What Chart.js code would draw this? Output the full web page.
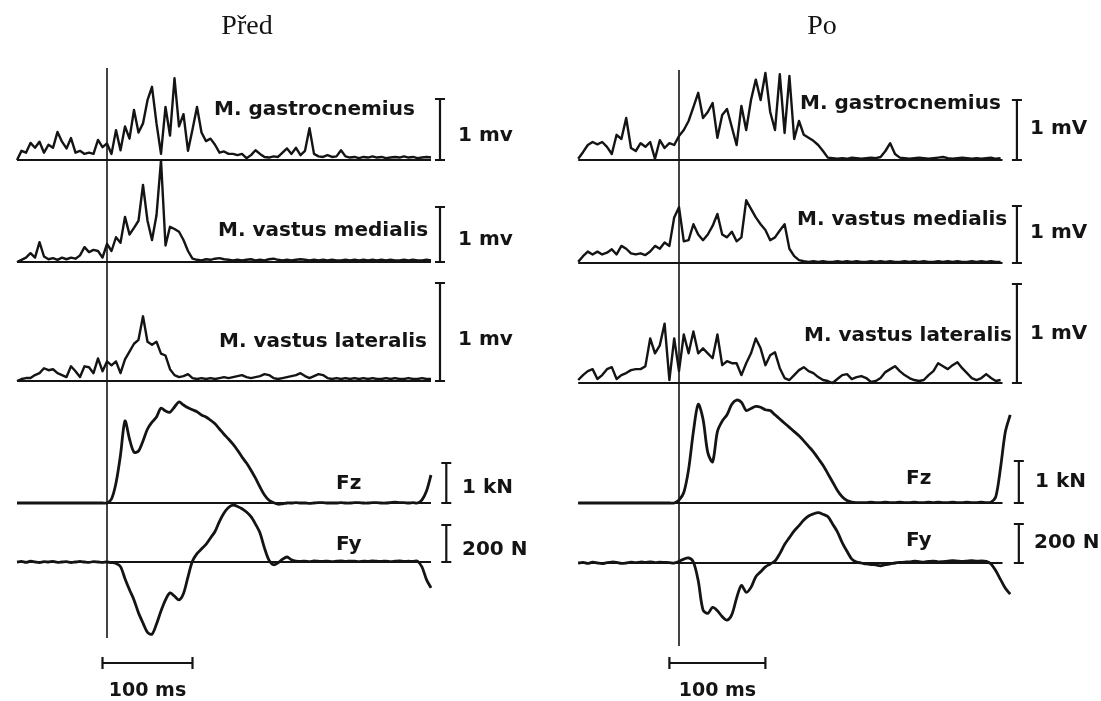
<!DOCTYPE html>
<html lang="cs">
<head>
<meta charset="utf-8">
<title>EMG a reakční síly – před a po</title>
<script src="https://cdn.jsdelivr.net/npm/chart.js@4.4.1/dist/chart.umd.min.js"></script>
<style>
  html, body { margin: 0; padding: 0; background: #fff; }
  #figure { display: block; }
</style>
</head>
<body>
<canvas id="figure" width="1101" height="701"></canvas>
<script>
// All traces are sampled every 5 ms, time 0 = foot contact
const SAMPLE_MS = 5;

// Před: rectified EMG [mV], Fz [kN], Fy [N]; first sample at -100 ms
const beforeStartMs = -100;
const beforeGastrocnemius = [
    0.00, 0.15, 0.12, 0.28, 0.20, 0.30, 0.12, 0.25, 0.20, 0.46,
    0.30, 0.19, 0.36, 0.12, 0.15, 0.10, 0.12, 0.10, 0.33, 0.21,
    0.27, 0.10, 0.49, 0.16, 0.55, 0.35, 0.82, 0.45, 0.60, 0.98,
    1.20, 0.60, 0.10, 0.87, 0.40, 1.34, 0.55, 0.75, 0.15, 0.50,
    0.87, 0.45, 0.31, 0.35, 0.25, 0.12, 0.14, 0.10, 0.10, 0.08,
    0.10, 0.03, 0.08, 0.16, 0.10, 0.05, 0.04, 0.06, 0.05, 0.12,
    0.19, 0.10, 0.20, 0.08, 0.15, 0.52, 0.10, 0.06, 0.05, 0.08,
    0.05, 0.06, 0.16, 0.06, 0.04, 0.05, 0.03, 0.05, 0.04, 0.06,
    0.04, 0.05, 0.03, 0.04, 0.05, 0.04, 0.06, 0.04, 0.05, 0.03,
    0.04, 0.05, 0.04
];
const beforeMedialis = [
    0.00, 0.04, 0.08, 0.16, 0.08, 0.36, 0.10, 0.05, 0.07, 0.04,
    0.08, 0.05, 0.08, 0.06, 0.12, 0.27, 0.18, 0.22, 0.20, 0.08,
    0.33, 0.20, 0.45, 0.35, 0.82, 0.50, 0.62, 0.75, 1.40, 0.75,
    0.40, 0.85, 1.85, 0.30, 0.64, 0.60, 0.55, 0.40, 0.20, 0.06,
    0.04, 0.03, 0.05, 0.04, 0.06, 0.07, 0.05, 0.04, 0.03, 0.04,
    0.03, 0.04, 0.05, 0.03, 0.04, 0.03, 0.05, 0.06, 0.04, 0.03,
    0.04, 0.03, 0.04, 0.05, 0.04, 0.03, 0.04, 0.03, 0.04, 0.03,
    0.04, 0.03, 0.03, 0.04, 0.03, 0.04, 0.03, 0.04, 0.03, 0.04,
    0.03, 0.04, 0.03, 0.04, 0.03, 0.03, 0.04, 0.03, 0.04, 0.03,
    0.03, 0.04, 0.03
];
const beforeLateralis = [
    0.00, 0.02, 0.03, 0.03, 0.06, 0.08, 0.13, 0.11, 0.12, 0.08,
    0.06, 0.04, 0.15, 0.10, 0.04, 0.15, 0.14, 0.08, 0.23, 0.10,
    0.20, 0.16, 0.20, 0.08, 0.22, 0.30, 0.38, 0.42, 0.66, 0.40,
    0.37, 0.40, 0.28, 0.26, 0.12, 0.06, 0.04, 0.05, 0.07, 0.03,
    0.02, 0.03, 0.02, 0.03, 0.02, 0.03, 0.04, 0.03, 0.04, 0.05,
    0.06, 0.04, 0.03, 0.04, 0.05, 0.07, 0.06, 0.03, 0.02, 0.03,
    0.04, 0.05, 0.06, 0.08, 0.05, 0.03, 0.05, 0.07, 0.06, 0.03,
    0.02, 0.03, 0.02, 0.03, 0.02, 0.03, 0.02, 0.03, 0.02, 0.03,
    0.02, 0.02, 0.03, 0.02, 0.03, 0.02, 0.02, 0.03, 0.02, 0.02,
    0.03, 0.02, 0.02
];
const beforeFz = [
    0, 0, 0, 0, 0, 0, 0, 0, 0, 0,
    0, 0, 0, 0, 0, 0, 0, 0, 0, 0,
    0, 0.10, 0.50, 1.20, 2.05, 1.60, 1.27, 1.30, 1.55, 1.85,
    2.02, 2.15, 2.37, 2.30, 2.27, 2.40, 2.53, 2.45, 2.38, 2.33,
    2.28, 2.20, 2.15, 2.07, 1.98, 1.85, 1.72, 1.60, 1.47, 1.32,
    1.15, 1.00, 0.82, 0.62, 0.40, 0.20, 0.07, 0.01, -0.03, -0.02,
    0, 0, 0.01, 0, 0, -0.01, 0, 0.01, 0.01, 0,
    0, 0, 0.01, 0, 0, 0.01, 0.01, 0, 0, 0.01,
    0.01, 0, 0, 0.01, 0.02, 0.01, 0.01, 0, 0.01, 0,
    0.08, 0.30, 0.70
];
const beforeFy = [
    0, 3, -2, 4, 0, -3, 2, 0, 3, -2,
    0, 2, -3, 0, 3, 0, -2, 2, 0, -2,
    0, -3, -8, -25, -90, -150, -205, -275, -330, -380,
    -390, -335, -265, -205, -167, -185, -205, -170, -80, 5,
    45, 70, 95, 130, 165, 220, 265, 295, 308, 300,
    288, 270, 245, 205, 157, 75, 10, -15, -5, 15,
    27, 12, 5, 3, 5, 2, 6, 4, 3, 5,
    2, 4, 6, 3, 5, 4, 2, 5, 3, 6,
    4, 3, 5, 2, 4, 6, 3, 4, 3, 5,
    -27, -95, -140
];

// Po: same channels; first sample at -105 ms
const afterStartMs = -105;
const afterGastrocnemius = [
    0.02, 0.13, 0.25, 0.30, 0.26, 0.30, 0.22, 0.10, 0.42, 0.35,
    0.70, 0.20, 0.15, 0.28, 0.22, 0.30, 0.02, 0.33, 0.20, 0.28,
    0.25, 0.40, 0.50, 0.65, 0.88, 1.12, 0.70, 0.80, 0.95, 0.37,
    0.75, 0.85, 0.55, 0.25, 0.90, 0.50, 1.00, 1.34, 1.00, 1.45,
    0.80, 0.50, 1.43, 0.45, 1.40, 0.35, 0.65, 0.42, 0.37, 0.32,
    0.25, 0.15, 0.04, 0.03, 0.02, 0.03, 0.02, 0.04, 0.03, 0.02,
    0.03, 0.04, 0.03, 0.05, 0.15, 0.28, 0.10, 0.04, 0.03, 0.02,
    0.03, 0.04, 0.03, 0.02, 0.03, 0.04, 0.05, 0.03, 0.02, 0.03,
    0.04, 0.03, 0.02, 0.03, 0.02, 0.03, 0.04, 0.02, 0.03
];
const afterMedialis = [
    0.02, 0.12, 0.20, 0.15, 0.20, 0.15, 0.18, 0.24, 0.15, 0.30,
    0.25, 0.17, 0.15, 0.17, 0.14, 0.20, 0.30, 0.25, 0.36, 0.30,
    0.80, 0.98, 0.38, 0.40, 0.68, 0.50, 0.40, 0.50, 0.65, 0.86,
    0.50, 0.45, 0.55, 0.38, 0.45, 1.10, 0.95, 0.80, 0.68, 0.58,
    0.40, 0.45, 0.57, 0.68, 0.25, 0.12, 0.05, 0.03, 0.02, 0.03,
    0.02, 0.03, 0.02, 0.02, 0.03, 0.02, 0.03, 0.02, 0.03, 0.02,
    0.02, 0.03, 0.02, 0.03, 0.02, 0.03, 0.02, 0.02, 0.03, 0.02,
    0.03, 0.02, 0.03, 0.02, 0.02, 0.03, 0.02, 0.03, 0.02, 0.03,
    0.02, 0.02, 0.03, 0.02, 0.03, 0.02, 0.03, 0.02, 0.02
];
const afterLateralis = [
    0.03, 0.08, 0.12, 0.14, 0.04, 0.08, 0.14, 0.16, 0.04, 0.08,
    0.10, 0.13, 0.14, 0.14, 0.17, 0.45, 0.30, 0.38, 0.60, 0.03,
    0.45, 0.12, 0.49, 0.30, 0.52, 0.30, 0.35, 0.30, 0.25, 0.49,
    0.18, 0.22, 0.20, 0.20, 0.08, 0.20, 0.30, 0.45, 0.35, 0.18,
    0.28, 0.31, 0.15, 0.05, 0.03, 0.08, 0.13, 0.16, 0.12, 0.10,
    0.06, 0.03, 0.02, 0.00, 0.04, 0.08, 0.09, 0.04, 0.06, 0.07,
    0.05, 0.01, 0.02, 0.05, 0.11, 0.14, 0.17, 0.12, 0.08, 0.05,
    0.03, 0.02, 0.03, 0.08, 0.12, 0.20, 0.17, 0.14, 0.18, 0.21,
    0.15, 0.10, 0.05, 0.03, 0.05, 0.09, 0.05, 0.02, 0.03
];
const afterFz = [
    0, 0, 0, 0, 0, 0, 0, 0, 0, 0,
    0, 0, 0, 0, 0, 0, 0, 0, 0, 0,
    0, 0.07, 0.25, 0.80, 1.70, 2.35, 2.00, 1.20, 0.98, 1.70,
    1.95, 2.10, 2.35, 2.45, 2.40, 2.20, 2.25, 2.30, 2.28, 2.22,
    2.20, 2.10, 2.00, 1.90, 1.80, 1.70, 1.60, 1.48, 1.35, 1.22,
    1.06, 0.90, 0.70, 0.50, 0.30, 0.15, 0.06, 0.02, 0.01, 0.01,
    0.01, 0.02, 0.01, 0.01, 0.02, 0.01, 0.01, 0.02, 0.01, 0.01,
    0.02, 0.01, 0.01, 0.02, 0.01, 0.02, 0.01, 0.01, 0.02, 0.01,
    0.01, 0.02, 0.01, 0.01, 0.02, 0.01, 0.02, 0.15, 0.85, 1.70,
    2.10
];
const afterFy = [
    0, 3, -2, 4, 0, -3, 2, 5, 3, -2,
    0, 4, 2, 5, 3, 6, 2, 4, 3, 2,
    0, 8, 20, 26, 5, -90, -240, -258, -228, -245,
    -275, -293, -265, -180, -115, -150, -125, -70, -45, -20,
    -5, 10, 48, 95, 130, 165, 192, 220, 241, 252,
    258, 250, 238, 200, 160, 105, 60, 20, 5, 0,
    -5, -8, -10, -14, -8, -5, 0, 3, 5, 6,
    9, 7, 5, 8, 10, 6, 7, 9, 12, 10,
    8, 10, 12, 9, 11, 8, -5, -40, -85, -130,
    -160
];

const W = 1101;
const H = 701;
const INK = '#141414';
const LABEL_FONT = 'bold 20px "DejaVu Sans", sans-serif';

// Two panels side by side; each row gets its own hidden y axis
const panels = [
    {
        title: 'Před', titleX: 247,
        xAxis: 'xBefore', zeroPx: 107, pxPerMs: 0.9,
        startMs: beforeStartMs, endMs: 360,
        onsetTop: 68, onsetBottom: 638,
        timeBar: [-5, 95],
        rows: [
            { id: 'yBeforeGas', values: beforeGastrocnemius, emg: true, zeroPx: 160, barPx: 61, barValue: 1, barMs: 370,
              name: 'M. gastrocnemius', nameX: 214, nameY: 110, unit: '1 mv', unitX: 458, unitY: 136 },
            { id: 'yBeforeMed', values: beforeMedialis, emg: true, zeroPx: 262, barPx: 55, barValue: 1, barMs: 370,
              name: 'M. vastus medialis', nameX: 218, nameY: 231, unit: '1 mv', unitX: 458, unitY: 240 },
            { id: 'yBeforeLat', values: beforeLateralis, emg: true, zeroPx: 381, barPx: 98, barValue: 1, barMs: 370,
              name: 'M. vastus lateralis', nameX: 219, nameY: 342, unit: '1 mv', unitX: 458, unitY: 340 },
            { id: 'yBeforeFz', values: beforeFz, emg: false, zeroPx: 503, barPx: 40, barValue: 1, barMs: 377,
              name: 'Fz', nameX: 336, nameY: 484, unit: '1 kN', unitX: 462, unitY: 488 },
            { id: 'yBeforeFy', values: beforeFy, emg: false, zeroPx: 562, barPx: 37, barValue: 200, barMs: 377,
              name: 'Fy', nameX: 336, nameY: 545, unit: '200 N', unitX: 462, unitY: 550 }
        ]
    },
    {
        title: 'Po', titleX: 822,
        xAxis: 'xAfter', zeroPx: 679, pxPerMs: 0.96,
        startMs: afterStartMs, endMs: 337,
        onsetTop: 70, onsetBottom: 646,
        timeBar: [-10, 90],
        rows: [
            { id: 'yAfterGas', values: afterGastrocnemius, emg: true, zeroPx: 160, barPx: 60, barValue: 1, barMs: 352,
              name: 'M. gastrocnemius', nameX: 800, nameY: 104, unit: '1 mV', unitX: 1030, unitY: 129 },
            { id: 'yAfterMed', values: afterMedialis, emg: true, zeroPx: 263, barPx: 57, barValue: 1, barMs: 352,
              name: 'M. vastus medialis', nameX: 797, nameY: 220, unit: '1 mV', unitX: 1030, unitY: 233 },
            { id: 'yAfterLat', values: afterLateralis, emg: true, zeroPx: 383, barPx: 99, barValue: 1, barMs: 352,
              name: 'M. vastus lateralis', nameX: 804, nameY: 336, unit: '1 mV', unitX: 1030, unitY: 334 },
            { id: 'yAfterFz', values: afterFz, emg: false, zeroPx: 503, barPx: 42, barValue: 1, barMs: 354,
              name: 'Fz', nameX: 906, nameY: 479, unit: '1 kN', unitX: 1035, unitY: 482 },
            { id: 'yAfterFy', values: afterFy, emg: false, zeroPx: 563, barPx: 39, barValue: 200, barMs: 354,
              name: 'Fy', nameX: 906, nameY: 541, unit: '200 N', unitX: 1034, unitY: 543 }
        ]
    }
];

function toPoints(values, startMs) {
    return values.map((v, i) => ({ x: startMs + i * SAMPLE_MS, y: v }));
}

// Scale limits so that 0 lands on zeroPx and one unit spans pxPerUnit
function axisLimits(zeroPx, pxPerUnit, size, inverted) {
    if (inverted) {
        return { min: -(size - zeroPx) / pxPerUnit, max: zeroPx / pxPerUnit };
    }
    return { min: -zeroPx / pxPerUnit, max: (size - zeroPx) / pxPerUnit };
}

const scales = {};
const datasets = [];
panels.forEach(p => {
    scales[p.xAxis] = { type: 'linear', display: false, ...axisLimits(p.zeroPx, p.pxPerMs, W, false) };
    p.rows.forEach(r => {
        scales[r.id] = { type: 'linear', display: false, ...axisLimits(r.zeroPx, r.barPx / r.barValue, H, true) };
        datasets.push({
            label: p.title + ' ' + r.name,
            data: toPoints(r.values, p.startMs),
            xAxisID: p.xAxis,
            yAxisID: r.id,
            borderColor: INK,
            borderWidth: r.emg ? 2.4 : 2.8,
            borderJoinStyle: 'round',
            tension: r.emg ? 0 : 0.3,
            pointRadius: 0,
            fill: false
        });
    });
});

// Zero lines, onset line, calibration bars and all lettering
const figureDecor = {
    id: 'figureDecor',
    beforeDatasetsDraw(chart) {
        const ctx = chart.ctx;
        ctx.save();
        ctx.strokeStyle = INK;
        panels.forEach(p => {
            const xs = chart.scales[p.xAxis];
            ctx.lineWidth = 2;
            p.rows.forEach(r => {
                const y0 = chart.scales[r.id].getPixelForValue(0);
                ctx.beginPath();
                ctx.moveTo(xs.getPixelForValue(p.startMs), y0);
                ctx.lineTo(xs.getPixelForValue(p.endMs), y0);
                ctx.stroke();
            });
            const xOnset = xs.getPixelForValue(0);
            ctx.lineWidth = 1.6;
            ctx.beginPath();
            ctx.moveTo(xOnset, p.onsetTop);
            ctx.lineTo(xOnset, p.onsetBottom);
            ctx.stroke();
        });
        ctx.restore();
    },
    afterDatasetsDraw(chart) {
        const ctx = chart.ctx;
        ctx.save();
        ctx.strokeStyle = INK;
        ctx.fillStyle = INK;
        ctx.lineWidth = 2.2;

        const capBar = (x1, y1, x2, y2, cap, vertical) => {
            ctx.beginPath();
            ctx.moveTo(x1, y1);
            ctx.lineTo(x2, y2);
            if (vertical) {
                ctx.moveTo(x1 - cap, y1); ctx.lineTo(x1 + cap, y1);
                ctx.moveTo(x2 - cap, y2); ctx.lineTo(x2 + cap, y2);
            } else {
                ctx.moveTo(x1, y1 - cap); ctx.lineTo(x1, y1 + cap);
                ctx.moveTo(x2, y2 - cap); ctx.lineTo(x2, y2 + cap);
            }
            ctx.stroke();
        };

        panels.forEach(p => {
            const xs = chart.scales[p.xAxis];

            ctx.font = '28px "Liberation Serif", "Times New Roman", serif';
            ctx.textAlign = 'center';
            ctx.textBaseline = 'middle';
            ctx.fillText(p.title, p.titleX, 27);

            ctx.font = LABEL_FONT;
            ctx.textAlign = 'left';
            p.rows.forEach(r => {
                const ys = chart.scales[r.id];
                const xBar = xs.getPixelForValue(r.barMs);
                capBar(xBar, ys.getPixelForValue(0), xBar, ys.getPixelForValue(r.barValue), 5, true);
                ctx.fillText(r.name, r.nameX, r.nameY);
                ctx.fillText(r.unit, r.unitX, r.unitY);
            });

            // 100 ms time bar
            const xa = xs.getPixelForValue(p.timeBar[0]);
            const xb = xs.getPixelForValue(p.timeBar[1]);
            capBar(xa, 663, xb, 663, 6, false);
            ctx.font = 'bold 19px "DejaVu Sans", sans-serif';
            ctx.textAlign = 'center';
            ctx.fillText('100 ms', (xa + xb) / 2, 691);
        });
        ctx.restore();
    }
};

new Chart(document.getElementById('figure'), {
    type: 'line',
    data: { datasets },
    options: {
        responsive: false,
        animation: false,
        devicePixelRatio: 1,
        events: [],
        layout: { padding: 0 },
        plugins: {
            legend: { display: false },
            title: { display: false },
            tooltip: { enabled: false }
        },
        scales
    },
    plugins: [figureDecor]
});
</script>
</body>
</html>
